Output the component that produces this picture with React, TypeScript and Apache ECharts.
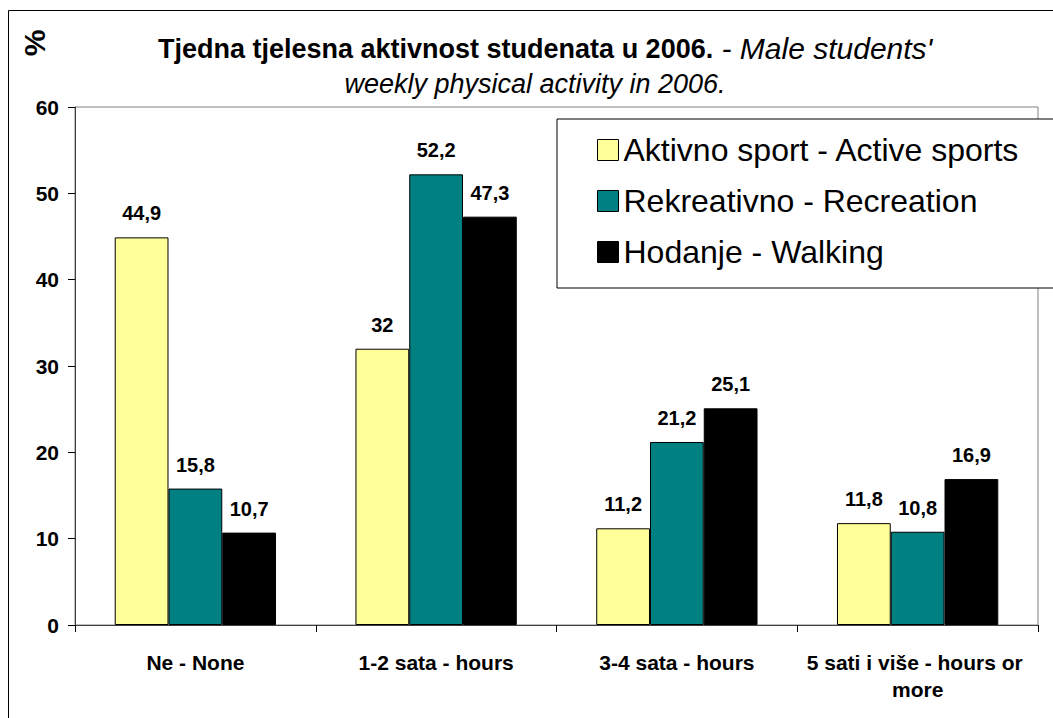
import React, { useEffect, useRef } from "react";
import * as echarts from "echarts";

const categories = ["Ne - None", "1-2 sata - hours", "3-4 sata - hours", "5 sati i više - hours or more"];
const seriesNames = ["Aktivno sport - Active sports", "Rekreativno - Recreation", "Hodanje - Walking"];
const activeSports = [44.9, 32, 11.2, 11.8];
const recreation = [15.8, 52.2, 21.2, 10.8];
const walking = [10.7, 47.3, 25.1, 16.9];
const seriesColors = ["#FFFF99", "#008080", "#000000"];
const yTicks = { min: 0, max: 60, interval: 10 };

const FONT = '"Liberation Sans", Arial, sans-serif';

export default function App() {
  const ref = useRef<HTMLDivElement>(null);
  useEffect(() => {
    if (!ref.current) return;
    const chart = echarts.init(ref.current, null, { renderer: "svg" });
    const data = [activeSports, recreation, walking];
    const option: any = {
      animation: false,
      backgroundColor: "#ffffff",
      textStyle: { fontFamily: FONT },
      title: [
        {
          text: "{b|Tjedna tjelesna aktivnost studenata u 2006.}{i| - Male students'}",
          left: 158,
          top: 32,
          padding: 0,
          textStyle: {
            rich: {
              b: { fontFamily: FONT, fontSize: 27, fontWeight: "bold", color: "#000", lineHeight: 33 },
              i: { fontFamily: FONT, fontSize: 30, fontWeight: "normal", fontStyle: "italic", color: "#000", lineHeight: 33 },
            },
          },
        },
        {
          text: "weekly physical activity in 2006.",
          left: 535,
          top: 67,
          padding: 0,
          textAlign: "center",
          textStyle: {
            fontFamily: FONT,
            fontSize: 27,
            fontWeight: "normal",
            fontStyle: "italic",
            color: "#000",
            lineHeight: 33,
          },
        },
      ],
      legend: {
        orient: "vertical",
        left: 557,
        top: 119,
        padding: [15, 60, 20, 40],
        backgroundColor: "#ffffff",
        borderColor: "#000000",
        borderWidth: 1,
        itemWidth: 21,
        itemHeight: 21,
        itemGap: 19,
        icon: "rect",
        itemStyle: { borderColor: "#000", borderWidth: 1 },
        textStyle: { fontFamily: FONT, fontSize: 32, color: "#000" },
        data: seriesNames,
      },
      grid: {
        left: 75,
        right: 15,
        top: 107,
        bottom: 93,
        show: true,
        borderColor: "#808080",
        borderWidth: 1,
        backgroundColor: "#ffffff",
      },
      xAxis: {
        type: "category",
        data: categories,
        axisLine: { lineStyle: { color: "#404040", width: 1 } },
        axisTick: { show: true, length: 7, lineStyle: { color: "#000" } },
        axisLabel: {
          fontFamily: FONT,
          fontSize: 21,
          fontWeight: "bold",
          color: "#000",
          margin: 24,
          width: 235,
          overflow: "break",
          lineHeight: 27,
          interval: 0,
        },
      },
      yAxis: {
        type: "value",
        min: yTicks.min,
        max: yTicks.max,
        interval: yTicks.interval,
        splitLine: { show: false },
        axisLine: { show: true, lineStyle: { color: "#404040", width: 1 } },
        axisTick: { show: true, length: 7, lineStyle: { color: "#000" } },
        axisLabel: { fontFamily: FONT, fontSize: 21, fontWeight: "bold", color: "#000", margin: 16 },
      },
      graphic: [
        {
          type: "rect",
          shape: { x: 8.5, y: 10.5, width: 1200, height: 900 },
          style: { fill: "none", stroke: "#000", lineWidth: 1 },
          silent: true,
          z: -10,
        },
        {
          type: "text",
          x: 34,
          y: 43,
          rotation: Math.PI / 2,
          style: {
            text: "%",
            fontFamily: FONT,
            fontSize: 30,
            fontWeight: "bold",
            fill: "#000",
            align: "center",
            verticalAlign: "middle",
          },
        },
      ],
      series: seriesNames.map((name, i) => ({
        name,
        type: "bar",
        data: data[i],
        barGap: "0%",
        barCategoryGap: "33%",
        itemStyle: { color: seriesColors[i], borderColor: "#000", borderWidth: 1 },
        label: {
          show: true,
          position: "top",
          distance: 14,
          fontFamily: FONT,
          fontSize: 20,
          fontWeight: "bold",
          color: "#000",
          formatter: (p: any) => String(p.value).replace(".", ","),
        },
      })),
    };
    chart.setOption(option);
    return () => chart.dispose();
  }, []);
  return (
    <div
      ref={ref}
      style={{ position: "fixed", left: 0, top: 0, width: 1053, height: 718 }}
    />
  );
}
